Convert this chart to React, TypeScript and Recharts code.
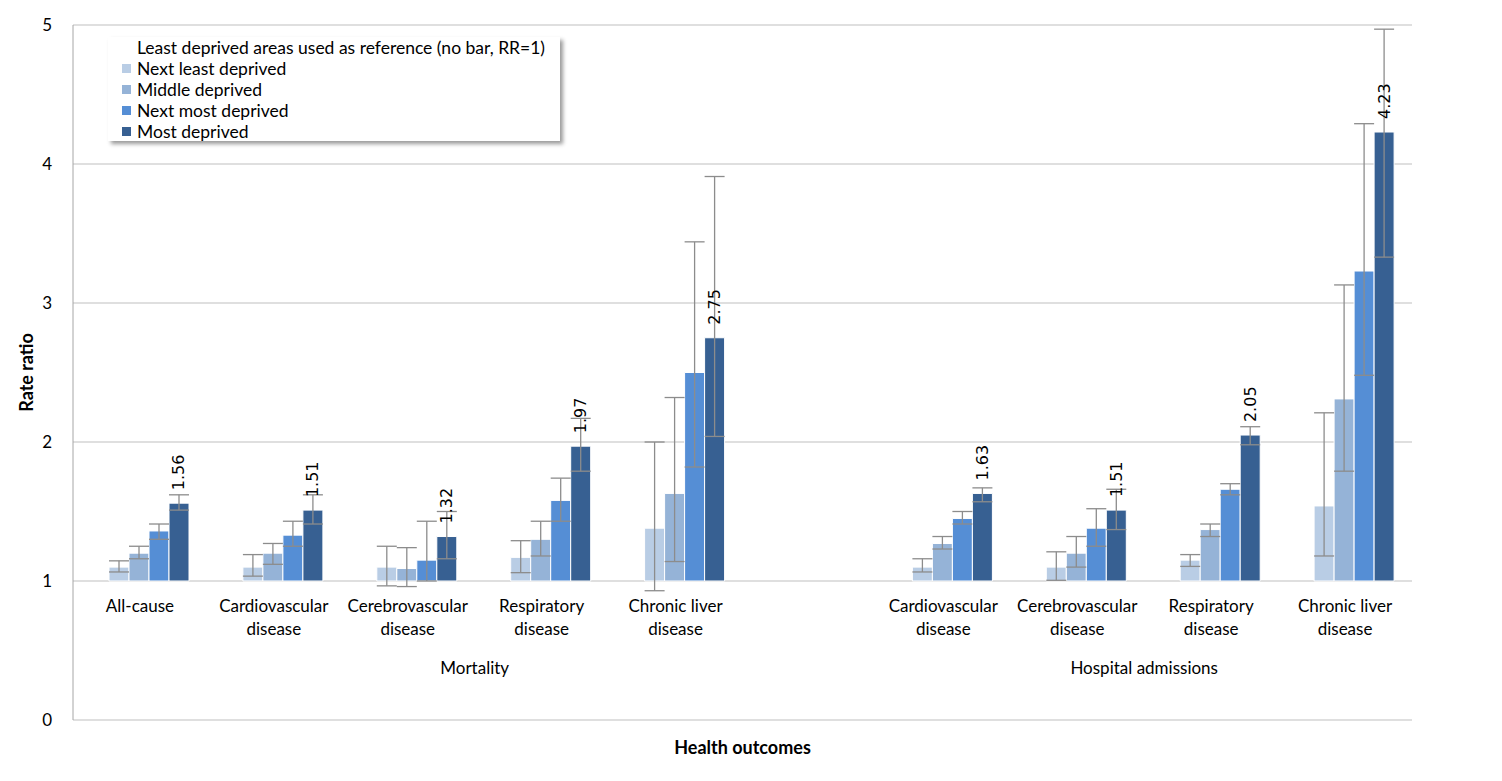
import React from 'react';
import {
  BarChart,
  Bar,
  XAxis,
  YAxis,
  CartesianGrid,
  ErrorBar,
  LabelList,
  Legend,
  ReferenceArea,
} from 'recharts';

// categories (the empty one keeps the gap between the two outcome groups)
const categoryLabels = [
  'All-cause',
  'Cardiovascular\ndisease',
  'Cerebrovascular\ndisease',
  'Respiratory\ndisease',
  'Chronic liver\ndisease',
  '',
  'Cardiovascular\ndisease',
  'Cerebrovascular\ndisease',
  'Respiratory\ndisease',
  'Chronic liver\ndisease',
];
const categoryKeys = categoryLabels.map((_, i) => `c${i}`);

const groups = [
  { name: 'Mortality', from: 'c0', to: 'c5' },
  { name: 'Hospital admissions', from: 'c6', to: 'c9' },
];

const yTicks = [0, 1, 2, 3, 4, 5];

// rate ratios (least deprived = 1, no bar)
const nextLeast = [1.1, 1.1, 1.1, 1.17, 1.38, null, 1.1, 1.1, 1.15, 1.54];
const middle = [1.2, 1.2, 1.09, 1.3, 1.63, null, 1.27, 1.2, 1.37, 2.31];
const nextMost = [1.36, 1.33, 1.15, 1.58, 2.5, null, 1.45, 1.38, 1.66, 3.23];
const most = [1.56, 1.51, 1.32, 1.97, 2.75, null, 1.63, 1.51, 2.05, 4.23];

// 95% confidence limits
const nextLeastLo = [1.065, 1.035, 0.965, 1.06, 0.93, null, 1.065, 1.005, 1.105, 1.18];
const nextLeastHi = [1.145, 1.19, 1.25, 1.29, 2.0, null, 1.16, 1.21, 1.19, 2.21];
const middleLo = [1.16, 1.12, 0.96, 1.18, 1.14, null, 1.23, 1.1, 1.32, 1.79];
const middleHi = [1.25, 1.27, 1.24, 1.43, 2.32, null, 1.32, 1.32, 1.41, 3.13];
const nextMostLo = [1.3, 1.25, 1.0, 1.43, 1.82, null, 1.41, 1.25, 1.62, 2.48];
const nextMostHi = [1.41, 1.43, 1.43, 1.74, 3.44, null, 1.5, 1.52, 1.7, 4.29];
const mostLo = [1.51, 1.41, 1.16, 1.79, 2.04, null, 1.57, 1.37, 1.98, 3.33];
const mostHi = [1.62, 1.62, 1.5, 2.17, 3.91, null, 1.67, 1.66, 2.11, 4.97];

const series = [
  { key: 'ref', name: 'Least deprived areas used as reference (no bar, RR=1)', color: '#ffffff', values: categoryLabels.map(() => null), lo: [], hi: [] },
  { key: 'nl', name: 'Next least deprived', color: '#B9CDE5', values: nextLeast, lo: nextLeastLo, hi: nextLeastHi },
  { key: 'mid', name: 'Middle deprived', color: '#95B3D7', values: middle, lo: middleLo, hi: middleHi },
  { key: 'nm', name: 'Next most deprived', color: '#558ED5', values: nextMost, lo: nextMostLo, hi: nextMostHi },
  { key: 'md', name: 'Most deprived', color: '#376092', values: most, lo: mostLo, hi: mostHi },
];

const FONT = 'Lato, "Open Sans", sans-serif';
const WIDTH = 1494;
const HEIGHT = 773;
const MARGIN = { top: 17, right: 90, bottom: 0, left: 0 };
const X_AXIS_H = 61;
const PLOT_H = HEIGHT - MARGIN.top - MARGIN.bottom - X_AXIS_H;
const Y_MAX = 5;

const data = categoryKeys.map((key, i) => {
  const row: any = { key, label: categoryLabels[i] };
  series.forEach((s) => {
    const v = s.values[i];
    row[s.key] = v == null ? null : [1, v];
    row[`${s.key}Err`] = v == null || s.lo[i] == null ? null : [v - s.lo[i], s.hi[i] - v];
  });
  row.mdLabel = most[i] == null ? '' : most[i].toFixed(2);
  return row;
});

// category names sit just under the RR=1 line
function CategoryTick(props: any) {
  const { x, y, payload } = props;
  const idx = categoryKeys.indexOf(payload.value);
  const lines = (categoryLabels[idx] || '').split('\n');
  const oneLine = y - (PLOT_H * 1) / Y_MAX;
  return (
    <g>
      {lines.map((ln, k) => (
        <text
          key={k}
          x={x}
          y={oneLine + 24 + k * 23}
          textAnchor="middle"
          dominantBaseline="central"
          fontFamily={FONT}
          fontSize={17}
          fill="#000"
        >
          {ln}
        </text>
      ))}
    </g>
  );
}

function ValueLabel(props: any) {
  const { x, y, width, value } = props;
  if (!value) return null;
  const cx = x + width / 2;
  const ty = y - 13;
  return (
    <text
      x={cx}
      y={ty}
      transform={`rotate(-90, ${cx}, ${ty})`}
      textAnchor="start"
      dominantBaseline="central"
      fontFamily='"DejaVu Sans", sans-serif'
      fontSize={16}
      fill="#000"
    >
      {value}
    </text>
  );
}

function LegendBox() {
  return (
    <div
      style={{
        background: '#fff',
        boxShadow: '3px 3px 4px rgba(0,0,0,0.4)',
        width: 452,
        height: 104,
        boxSizing: 'border-box',
        paddingLeft: 14,
        fontFamily: FONT,
        fontSize: 17.5,
        color: '#000',
      }}
    >
      {series.map((s) => (
        <div key={s.key} style={{ height: 21, lineHeight: '21px', display: 'flex', alignItems: 'center' }}>
          <span style={{ width: 9, height: 9, background: s.color, display: 'inline-block', marginRight: 6 }} />
          <span>{s.name}</span>
        </div>
      ))}
    </div>
  );
}

export default function App() {
  return (
    <div style={{ width: WIDTH, height: HEIGHT, position: 'relative' }}>
      <BarChart
        width={WIDTH}
        height={HEIGHT}
        data={data}
        margin={MARGIN}
        barGap={0}
        barCategoryGap={16}
      >
        <CartesianGrid vertical={false} stroke="#BFBFBF" />
        <XAxis
          dataKey="key"
          height={X_AXIS_H}
          axisLine={false}
          tickLine={false}
          tickSize={0}
          tickMargin={0}
          interval={0}
          tick={<CategoryTick />}
          label={{
            value: 'Health outcomes',
            position: 'insideBottom',
            offset: 27,
            style: { fontFamily: FONT, fontSize: 18, fontWeight: 'bold', fill: '#000' },
          }}
        />
        <YAxis
          width={65}
          domain={[0, Y_MAX]}
          ticks={yTicks}
          allowDataOverflow
          axisLine={{ stroke: '#A6A6A6' }}
          tickLine={false}
          tickSize={0}
          tickMargin={21}
          tick={{ fontFamily: FONT, fontSize: 17, fill: '#000' }}
          label={{
            value: 'Rate ratio',
            angle: -90,
            position: 'insideLeft',
            offset: 19,
            style: { textAnchor: 'middle', fontFamily: FONT, fontSize: 18, fontWeight: 'bold', fill: '#000' },
          }}
        />
        {groups.map((g) => (
          <ReferenceArea
            key={g.name}
            x1={g.from}
            x2={g.to}
            y1={0}
            y2={1}
            fill="none"
            fillOpacity={0}
            stroke="none"
            ifOverflow="visible"
            label={{
              value: g.name,
              position: 'insideBottom',
              offset: 46,
              style: { fontFamily: FONT, fontSize: 17, fill: '#000' },
            }}
          />
        ))}
        <Legend
          layout="horizontal"
          verticalAlign="middle"
          align="center"
          content={<LegendBox />}
          wrapperStyle={{ left: 100, top: 29, width: 452, height: 104 }}
        />
        {series.map((s) => (
          <Bar
            key={s.key}
            dataKey={s.key}
            name={s.name}
            fill={s.color}
            stroke="#fff"
            strokeWidth={1}
            isAnimationActive={false}
          >
            {s.key !== 'ref' && (
              <ErrorBar dataKey={`${s.key}Err`} width={10} stroke="#8C8C8C" strokeWidth={1.3} direction="y" />
            )}
            {s.key === 'md' && <LabelList dataKey="mdLabel" content={<ValueLabel />} />}
          </Bar>
        ))}
      </BarChart>
    </div>
  );
}
